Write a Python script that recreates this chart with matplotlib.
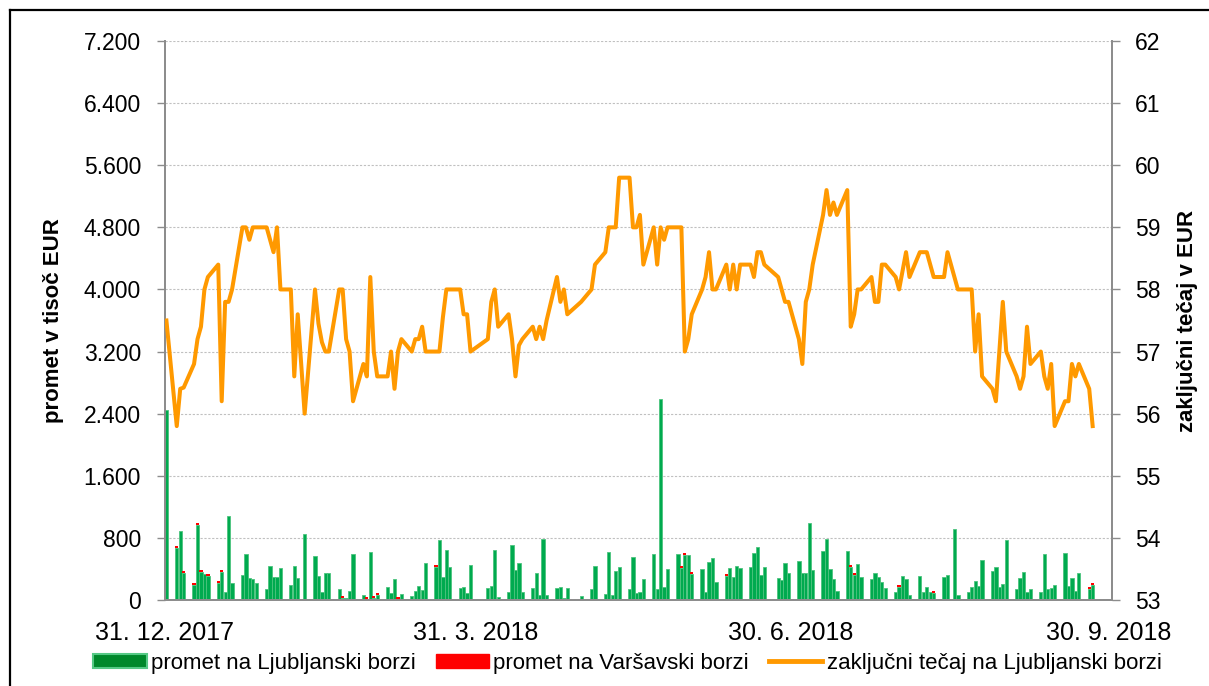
import matplotlib
matplotlib.use('Agg')
import matplotlib.pyplot as plt
import matplotlib.dates as mdates
from matplotlib import font_manager
from matplotlib.patches import Patch
from matplotlib.lines import Line2D
import pandas as pd

# days the Ljubljana exchange was closed
holidays = ['2018-02-08', '2018-03-30', '2018-04-02', '2018-04-27',
            '2018-05-01', '2018-05-02', '2018-06-25', '2018-08-15']

# closing price in EUR, one value per trading day (31.12.2017 first)
price = [57.5,
         # jan
         55.8, 56.4, 56.42, 56.8, 57.2, 57.4, 58.0, 58.2, 58.4, 56.2, 57.8, 57.8, 58.0,
         59.0, 59.0, 58.8, 59.0, 59.0, 59.0, 58.8, 58.6,
         # feb
         59.0, 58.0, 58.0, 56.6, 57.6, 56.0, 58.0, 57.45, 57.15, 57.0, 57.0, 58.0, 58.0,
         57.2, 57.0, 56.2, 56.8, 56.6, 58.2,
         # mar
         57.0, 56.6, 56.6, 57.0, 56.4, 57.0, 57.2, 57.0, 57.2, 57.2, 57.4, 57.0, 57.0,
         57.0, 57.55, 58.0, 58.0, 58.0, 57.6, 57.6, 57.0,
         # apr
         57.2, 57.8, 58.0, 57.4, 57.6, 57.2, 56.6, 57.1, 57.2, 57.4, 57.2, 57.4, 57.2,
         57.5, 58.2, 57.8, 58.0, 57.6, 57.8,
         # may
         58.0, 58.4, 58.6, 59.0, 59.0, 59.0, 59.8, 59.8, 59.0, 59.0, 59.2, 58.4, 59.0,
         58.4, 59.0, 58.8, 59.0, 59.0, 59.0, 57.0, 57.2,
         # jun
         57.6, 58.0, 58.2, 58.6, 58.0, 58.0, 58.4, 58.0, 58.4, 58.0, 58.4, 58.4, 58.2,
         58.6, 58.6, 58.4, 58.2, 58.0, 57.8, 57.8,
         # jul
         57.2, 56.8, 57.8, 58.0, 58.4, 59.2, 59.6, 59.2, 59.4, 59.2, 59.6, 57.4, 57.6,
         58.0, 58.0, 58.2, 57.8, 57.8, 58.4, 58.4, 58.2, 58.0,
         # aug
         58.3, 58.6, 58.2, 58.6, 58.6, 58.6, 58.4, 58.2, 58.2, 58.6, 58.2, 58.0, 58.0,
         58.0, 57.0, 57.6, 56.6, 56.4, 56.2, 57.0, 57.8, 57.0,
         # sep
         56.6, 56.4, 56.6, 57.4, 56.8, 57.0, 56.6, 56.4, 56.8, 55.8, 56.2, 56.2, 56.8,
         56.6, 56.8, 56.4, 55.8]

# turnover on Ljubljana exchange, thousand EUR
ljse = [2442,
        670, 891, 352, 192, 964, 361, 330, 309, 221, 361, 107, 1080, 214,
        321, 587, 279, 270, 214, 137, 441, 300,
        300, 407, 197, 441, 279, 844, 566, 313, 100, 351, 343, 137, 25,
        25, 120, 587, 64, 12, 613,
        20, 60, 171, 86, 270, 18, 77, 56, 120, 184, 128, 471, 420,
        771, 300, 643, 428, 150, 171, 86, 450,
        158, 184, 643, 43, 107, 707, 386, 471, 107, 150, 351, 64, 784,
        64, 154, 167, 21, 150, 51,
        141, 441, 77, 613, 64, 377, 420, 141, 548, 86, 107, 270, 591,
        137, 2592, 171, 398, 591, 412, 580, 578,
        331, 394, 99, 493, 544, 227, 306, 416, 300, 441, 407, 420, 608,
        677, 321, 420, 279, 257, 471, 351,
        501, 351, 343, 994, 386, 630, 784, 398, 270, 116, 630, 425, 326,
        463, 300, 270, 351, 300, 227, 159, 107, 168,
        313, 270, 64, 313, 99, 163, 107, 95, 300, 321, 908, 64, 107,
        163, 244, 180, 514, 377, 420, 163, 201, 771,
        141, 279, 356, 107, 141, 99, 591, 141, 150, 193, 600, 184, 279,
        120, 351, 143, 193]

# turnover on Warsaw exchange (only days with trades)
warsaw_days = ['2018-01-03', '2018-01-05', '2018-01-08', '2018-01-09', '2018-01-10',
               '2018-01-12', '2018-01-15', '2018-01-16', '2018-02-20', '2018-02-27',
               '2018-03-01', '2018-03-02', '2018-03-08', '2018-03-19', '2018-05-29',
               '2018-05-30', '2018-06-01', '2018-06-11', '2018-07-17', '2018-07-18',
               '2018-07-31', '2018-08-10', '2018-09-24', '2018-09-25']
warsaw_values = [28, 25, 22, 30, 25, 25, 28, 25, 30, 28, 25, 25, 25, 30, 25, 28,
                 25, 28, 25, 25, 25, 25, 28, 30]

tick_dates = ['2017-12-31', '2018-03-31', '2018-06-30', '2018-09-30']
tick_labels = ['31. 12. 2017', '31. 3. 2018', '30. 6. 2018', '30. 9. 2018']

dates = pd.DatetimeIndex(['2017-12-31']).append(
    pd.bdate_range('2018-01-03', '2018-09-25').difference(pd.to_datetime(holidays)))
warsaw = pd.Series(warsaw_values, index=pd.to_datetime(warsaw_days)).reindex(dates, fill_value=0)

names = {f.name for f in font_manager.fontManager.ttflist}
if 'Liberation Sans Narrow' in names:
    narrow, nsize, lsize = 'Liberation Sans Narrow', 21, 19
else:
    narrow, nsize, lsize = 'Liberation Sans', 18, 16
plt.rcParams['font.family'] = ['Liberation Sans', 'DejaVu Sans']

fig = plt.figure(figsize=(12.09, 6.86), dpi=100)
ax1 = fig.add_axes([0.1362, 0.1254, 0.7833, 0.8148])

x = mdates.date2num(dates) + 0.5
ax1.bar(x, ljse, width=0.95, color='#00AA4F', edgecolor='#4CC47E', linewidth=0.6, zorder=2)
ax1.bar(x, warsaw.values, bottom=ljse, width=0.95, color='#FF0000', linewidth=0, zorder=2)

ax1.set_ylim(0, 7200)
ax1.set_yticks(range(0, 7201, 800))
ax1.set_yticklabels([f'{v:,}'.replace(',', '.') for v in range(0, 7201, 800)])
ax1.set_xlim(mdates.date2num(pd.Timestamp('2017-12-31')), mdates.date2num(pd.Timestamp('2018-10-01')))
ax1.set_xticks(mdates.date2num(pd.to_datetime(tick_dates)))
ax1.set_xticklabels(tick_labels)
ax1.grid(axis='y', color='#C0C0C0', linestyle=(0, (2, 1.5)), linewidth=0.8, zorder=0)
ax1.set_axisbelow(True)
ax1.set_ylabel('promet v tisoč EUR', fontsize=16, fontweight='bold', labelpad=14)

ax2 = ax1.twinx()
ax2.plot(x, price, color='#FF9900', linewidth=2.9, solid_joinstyle='round', zorder=3)
ax2.set_ylim(53, 62)
ax2.set_yticks(range(53, 63))
ax2.set_ylabel('zaključni tečaj v EUR', fontsize=16, fontweight='bold', labelpad=12)

for ax in (ax1, ax2):
    ax.spines['top'].set_visible(False)
    for s in ('left', 'right', 'bottom'):
        ax.spines[s].set_color('#8C8C8C')
        ax.spines[s].set_linewidth(1.3)
    ax.tick_params(axis='y', length=6, width=1, color='#8C8C8C', pad=11, labelsize=16.5)
ax1.tick_params(axis='x', length=0, pad=15)
for lab in ax1.get_xticklabels():
    lab.set_fontfamily(narrow)
    lab.set_fontsize(nsize)

handles = [Patch(facecolor='#00882B', edgecolor='#55C985', linewidth=1.5),
           Patch(facecolor='#FF0000', edgecolor='#FF0000'),
           Line2D([], [], color='#FF9900', linewidth=3.5)]
fig.legend(handles, ['promet na Ljubljanski borzi', 'promet na Varšavski borzi',
                     'zaključni tečaj na Ljubljanski borzi'],
           loc='center', bbox_to_anchor=(0.519, 0.033), ncol=3, frameon=False,
           prop={'family': narrow, 'size': lsize}, handlelength=2.4,
           handleheight=0.6, handletextpad=0.2, columnspacing=0.9)

# outer frame (left and top edge only)
fig.add_artist(Line2D([10 / 1209, 10 / 1209], [0, 1 - 10 / 686], color='black', linewidth=1.6))
fig.add_artist(Line2D([10 / 1209, 1], [1 - 10 / 686, 1 - 10 / 686], color='black', linewidth=1.6))

fig.savefig('out.png', dpi=100)
